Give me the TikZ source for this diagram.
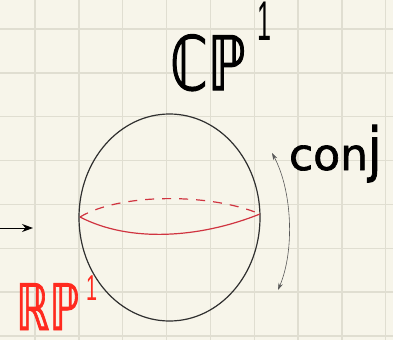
\documentclass[tikz,border=0pt]{standalone}
\usepackage{fontspec}
\usepackage{graphicx}
\usetikzlibrary{arrows.meta,shapes.geometric}
\newfontfamily\bbfont[FakeBold=1.5]{DejaVu Sans}
\newfontfamily\onefont{Liberation Sans}
\newfontfamily\handfont[FakeBold=1.5]{DejaVu Sans}
\definecolor{paper}{HTML}{F7F5EA}
\definecolor{gridc}{HTML}{E0DED1}
\definecolor{eqred}{HTML}{D03440}
\definecolor{markred}{HTML}{FF2A1F}
\definecolor{ink}{HTML}{303030}
\tikzset{
  gridline/.style={draw=gridc, line width=1.3pt},
  sphere/.style={draw=ink, line width=1.2pt, ellipse, minimum width=181pt, minimum height=207pt, inner sep=0pt},
  eqfront/.style={draw=eqred, line width=1.2pt},
  eqback/.style={draw=eqred, line width=1.2pt, dash pattern=on 9pt off 8pt},
  conjarrow/.style={draw=ink!80, line width=0.6pt, {Stealth[length=7pt,width=4.5pt]}-{Stealth[length=7pt,width=4.5pt]}},
  inarrow/.style={draw=black, line width=1pt, -{Stealth[length=11pt,width=8pt]}},
  label/.style={inner sep=0pt, outer sep=0pt}
}
\begin{document}
\begin{tikzpicture}[x=1pt,y=-1pt]
\fill[paper] (0,0) rectangle (393,340);
\useasboundingbox (0,0) rectangle (393,340);
\foreach \i in {0,...,8} \draw[gridline] ({35+43.85*\i},0) -- ++(0,340);
\foreach \i in {0,...,7} \draw[gridline] (0,{29+43.85*\i}) -- ++(393,0);
\node[sphere] (s) at (169.5,217.5) {};
\coordinate (eqL) at (80,217);
\coordinate (eqR) at (260,214);
\draw[eqback] (eqL) .. controls (120,193) and (210,193) .. (eqR);
\draw[eqfront] (eqL) .. controls (130,243) and (200,238) .. (eqR);
\coordinate (cA) at (272,153);
\coordinate (cB) at (278,290);
\draw[conjarrow] (cA) .. controls (292,190) and (295,250) .. (cB);
\coordinate (inA) at (0,228);
\coordinate (inB) at (33,228);
\draw[inarrow] (inA) -- (inB);
\node[label, anchor=base west] (cp) at (170,90) {\bbfont\fontsize{75}{75}\selectfont\scalebox{0.72}[1]{ℂℙ}\hspace{12pt}\raisebox{50pt}{\onefont\fontsize{56}{56}\selectfont\scalebox{0.45}[1]{1}}};
\node[label, anchor=base west] (conj) at (289,170) {\handfont\fontsize{44}{44}\selectfont con\scalebox{1.1}[1.35]{j}};
\node[label, anchor=base west, text=markred] (rp) at (16,330) {\bbfont\fontsize{64}{64}\selectfont\scalebox{0.66}[1]{ℝℙ}\hspace{7pt}\raisebox{30pt}{\onefont\fontsize{36}{36}\selectfont\scalebox{0.55}[1]{1}}};
\end{tikzpicture}
\end{document}
